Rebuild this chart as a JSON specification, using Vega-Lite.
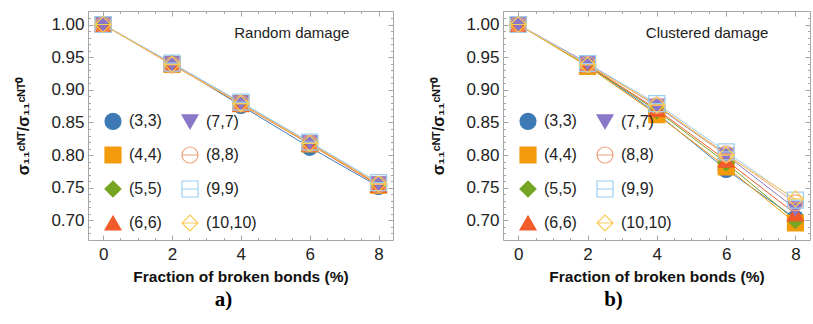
{
  "$schema": "https://vega.github.io/schema/vega-lite/v6.json",
  "background": "white",
  "padding": {"left": 15, "top": 10, "right": 4, "bottom": 0},
  "spacing": 36,
  "datasets": {
    "random": [
      {"tube": "(3,3)", "x": 0, "y": 1.0}, {"tube": "(3,3)", "x": 2, "y": 0.94}, {"tube": "(3,3)", "x": 4, "y": 0.876}, {"tube": "(3,3)", "x": 6, "y": 0.812}, {"tube": "(3,3)", "x": 8, "y": 0.752},
      {"tube": "(4,4)", "x": 0, "y": 1.0}, {"tube": "(4,4)", "x": 2, "y": 0.939}, {"tube": "(4,4)", "x": 4, "y": 0.879}, {"tube": "(4,4)", "x": 6, "y": 0.817}, {"tube": "(4,4)", "x": 8, "y": 0.754},
      {"tube": "(5,5)", "x": 0, "y": 1.0}, {"tube": "(5,5)", "x": 2, "y": 0.94}, {"tube": "(5,5)", "x": 4, "y": 0.879}, {"tube": "(5,5)", "x": 6, "y": 0.818}, {"tube": "(5,5)", "x": 8, "y": 0.755},
      {"tube": "(6,6)", "x": 0, "y": 1.0}, {"tube": "(6,6)", "x": 2, "y": 0.939}, {"tube": "(6,6)", "x": 4, "y": 0.878}, {"tube": "(6,6)", "x": 6, "y": 0.817}, {"tube": "(6,6)", "x": 8, "y": 0.754},
      {"tube": "(7,7)", "x": 0, "y": 1.0}, {"tube": "(7,7)", "x": 2, "y": 0.94}, {"tube": "(7,7)", "x": 4, "y": 0.88}, {"tube": "(7,7)", "x": 6, "y": 0.819}, {"tube": "(7,7)", "x": 8, "y": 0.756},
      {"tube": "(8,8)", "x": 0, "y": 1.0}, {"tube": "(8,8)", "x": 2, "y": 0.938}, {"tube": "(8,8)", "x": 4, "y": 0.879}, {"tube": "(8,8)", "x": 6, "y": 0.818}, {"tube": "(8,8)", "x": 8, "y": 0.755},
      {"tube": "(9,9)", "x": 0, "y": 1.0}, {"tube": "(9,9)", "x": 2, "y": 0.941}, {"tube": "(9,9)", "x": 4, "y": 0.881}, {"tube": "(9,9)", "x": 6, "y": 0.82}, {"tube": "(9,9)", "x": 8, "y": 0.758},
      {"tube": "(10,10)", "x": 0, "y": 1.0}, {"tube": "(10,10)", "x": 2, "y": 0.939}, {"tube": "(10,10)", "x": 4, "y": 0.879}, {"tube": "(10,10)", "x": 6, "y": 0.818}, {"tube": "(10,10)", "x": 8, "y": 0.756}
    ],
    "clustered": [
      {"tube": "(3,3)", "x": 0, "y": 1.0}, {"tube": "(3,3)", "x": 2, "y": 0.938}, {"tube": "(3,3)", "x": 4, "y": 0.864}, {"tube": "(3,3)", "x": 6, "y": 0.778}, {"tube": "(3,3)", "x": 8, "y": 0.703},
      {"tube": "(4,4)", "x": 0, "y": 1.0}, {"tube": "(4,4)", "x": 2, "y": 0.936}, {"tube": "(4,4)", "x": 4, "y": 0.862}, {"tube": "(4,4)", "x": 6, "y": 0.782}, {"tube": "(4,4)", "x": 8, "y": 0.696},
      {"tube": "(5,5)", "x": 0, "y": 1.0}, {"tube": "(5,5)", "x": 2, "y": 0.937}, {"tube": "(5,5)", "x": 4, "y": 0.868}, {"tube": "(5,5)", "x": 6, "y": 0.788}, {"tube": "(5,5)", "x": 8, "y": 0.7},
      {"tube": "(6,6)", "x": 0, "y": 1.0}, {"tube": "(6,6)", "x": 2, "y": 0.938}, {"tube": "(6,6)", "x": 4, "y": 0.87}, {"tube": "(6,6)", "x": 6, "y": 0.792}, {"tube": "(6,6)", "x": 8, "y": 0.71},
      {"tube": "(7,7)", "x": 0, "y": 1.0}, {"tube": "(7,7)", "x": 2, "y": 0.941}, {"tube": "(7,7)", "x": 4, "y": 0.875}, {"tube": "(7,7)", "x": 6, "y": 0.8}, {"tube": "(7,7)", "x": 8, "y": 0.718},
      {"tube": "(8,8)", "x": 0, "y": 1.0}, {"tube": "(8,8)", "x": 2, "y": 0.939}, {"tube": "(8,8)", "x": 4, "y": 0.876}, {"tube": "(8,8)", "x": 6, "y": 0.802}, {"tube": "(8,8)", "x": 8, "y": 0.727},
      {"tube": "(9,9)", "x": 0, "y": 1.0}, {"tube": "(9,9)", "x": 2, "y": 0.94}, {"tube": "(9,9)", "x": 4, "y": 0.879}, {"tube": "(9,9)", "x": 6, "y": 0.805}, {"tube": "(9,9)", "x": 8, "y": 0.731},
      {"tube": "(10,10)", "x": 0, "y": 1.0}, {"tube": "(10,10)", "x": 2, "y": 0.938}, {"tube": "(10,10)", "x": 4, "y": 0.877}, {"tube": "(10,10)", "x": 6, "y": 0.8}, {"tube": "(10,10)", "x": 8, "y": 0.733}
    ]
  },
  "resolve": {"scale": {"color": "independent", "stroke": "independent", "fill": "independent", "shape": "independent"}},
  "hconcat": [
    {
      "width": 305,
      "height": 229,
      "data": {"name": "random"},
      "title": {"text": "a)", "orient": "bottom", "anchor": "middle", "font": "Liberation Serif", "fontSize": 21, "fontWeight": "bold", "color": "#000", "dx": -17, "offset": 4},
      "layer": [
        {
          "mark": {"type": "line", "strokeWidth": 1},
          "encoding": {
            "x": {"field": "x", "type": "quantitative", "scale": {"domain": [-0.44, 8.42], "nice": false, "zero": false},
              "axis": {"orient": "bottom", "values": [0, 2, 4, 6, 8], "format": "d", "title": "Fraction of broken bonds (%)", "tickSize": -5, "labelPadding": 11, "titlePadding": 7}},
            "y": {"field": "y", "type": "quantitative", "scale": {"domain": [0.67, 1.0207], "nice": false, "zero": false},
              "axis": {"orient": "left", "values": [0.7, 0.75, 0.8, 0.85, 0.9, 0.95, 1.0], "format": ".2f", "title": "σ₁₁ᶜᴺᵀ/σ₁₁ᶜᴺᵀ⁰", "titleFontSize": 16, "tickSize": -5, "labelPadding": 9, "titlePadding": 19}},
            "color": {"field": "tube", "type": "nominal", "legend": null,
              "scale": {"domain": ["(10,10)", "(9,9)", "(8,8)", "(7,7)", "(6,6)", "(5,5)", "(4,4)", "(3,3)"],
                "range": ["#fccb55", "#9ccdf2", "#f0a27a", "#8b77c7", "#f15b2a", "#76a523", "#f49b0c", "#3d7ab5"]}}
          }
        },
        {
          "mark": {"type": "point", "size": 256, "strokeWidth": 1.2, "opacity": 1},
          "encoding": {
            "x": {"field": "x", "type": "quantitative", "axis": {"orient": "top", "values": [0, 2, 4, 6, 8], "labels": false, "title": null, "tickSize": -5}},
            "y": {"field": "y", "type": "quantitative", "axis": {"orient": "right", "values": [0.7, 0.75, 0.8, 0.85, 0.9, 0.95, 1.0], "labels": false, "title": null, "tickSize": -5}},
            "shape": {"field": "tube", "type": "nominal",
              "scale": {"domain": ["(3,3)", "(4,4)", "(5,5)", "(6,6)", "(7,7)", "(8,8)", "(9,9)", "(10,10)"],
                "range": ["circle", "square", "diamond", "triangle-up", "triangle-down", "M-1,0A1,1 0 1,0 1,0A1,1 0 1,0 -1,0ZM-1,0L1,0", "M-1,-1L1,-1L1,1L-1,1ZM-1,0L1,0", "M-1,0L0,-1L1,0L0,1ZM-1,0L1,0"]},
              "legend": {"orient": "none", "legendX": 16, "legendY": 101, "columns": 2, "title": null, "symbolSize": 256, "labelFontSize": 16, "labelFont": "Liberation Sans", "labelColor": "#222", "labelOffset": 7, "rowPadding": 12, "columnPadding": 17, "symbolStrokeWidth": 1.2, "padding": 0}},
            "stroke": {"field": "tube", "type": "nominal",
              "scale": {"domain": ["(3,3)", "(4,4)", "(5,5)", "(6,6)", "(7,7)", "(8,8)", "(9,9)", "(10,10)"],
                "range": ["#3d7ab5", "#f49b0c", "#76a523", "#f15b2a", "#8b77c7", "#f0a27a", "#9ccdf2", "#fccb55"]}},
            "fill": {"field": "tube", "type": "nominal",
              "scale": {"domain": ["(3,3)", "(4,4)", "(5,5)", "(6,6)", "(7,7)", "(8,8)", "(9,9)", "(10,10)"],
                "range": ["#3d7ab5", "#f49b0c", "#76a523", "#f15b2a", "#8b77c7", "transparent", "transparent", "transparent"]}}
          }
        },
        {
          "mark": {"type": "point", "opacity": 0, "size": 1},
          "encoding": {
            "x": {"field": "x", "type": "quantitative", "axis": {"orient": "bottom", "values": [0.5, 1, 1.5, 2.5, 3, 3.5, 4.5, 5, 5.5, 6.5, 7, 7.5], "labels": false, "title": null, "tickSize": -2.5}},
            "y": {"field": "y", "type": "quantitative", "axis": {"orient": "left", "values": [0.68, 0.69, 0.71, 0.72, 0.73, 0.74, 0.76, 0.77, 0.78, 0.79, 0.81, 0.82, 0.83, 0.84, 0.86, 0.87, 0.88, 0.89, 0.91, 0.92, 0.93, 0.94, 0.96, 0.97, 0.98, 0.99, 1.01, 1.02], "labels": false, "title": null, "tickSize": -2.5}}
          }
        },
        {
          "mark": {"type": "point", "opacity": 0, "size": 1},
          "encoding": {
            "x": {"field": "x", "type": "quantitative", "axis": {"orient": "top", "values": [0.5, 1, 1.5, 2.5, 3, 3.5, 4.5, 5, 5.5, 6.5, 7, 7.5], "labels": false, "title": null, "tickSize": -2.5}},
            "y": {"field": "y", "type": "quantitative", "axis": {"orient": "right", "values": [0.68, 0.69, 0.71, 0.72, 0.73, 0.74, 0.76, 0.77, 0.78, 0.79, 0.81, 0.82, 0.83, 0.84, 0.86, 0.87, 0.88, 0.89, 0.91, 0.92, 0.93, 0.94, 0.96, 0.97, 0.98, 0.99, 1.01, 1.02], "labels": false, "title": null, "tickSize": -2.5}}
          }
        },
        {
          "data": {"values": [{}]},
          "mark": {"type": "text", "text": "Random damage", "font": "Liberation Sans", "fontSize": 15, "color": "#222", "align": "center", "baseline": "middle"},
          "encoding": {
            "x": {"datum": 5.48, "type": "quantitative", "axis": null},
            "y": {"datum": 0.9865, "type": "quantitative", "axis": null}
          }
        }
      ],
      "resolve": {"axis": {"x": "independent", "y": "independent"}}
    },
    {
      "width": 307,
      "height": 229,
      "data": {"name": "clustered"},
      "title": {"text": "b)", "orient": "bottom", "anchor": "middle", "font": "Liberation Serif", "fontSize": 21, "fontWeight": "bold", "color": "#000", "dx": -43, "offset": 4},
      "layer": [
        {
          "mark": {"type": "line", "strokeWidth": 1},
          "encoding": {
            "x": {"field": "x", "type": "quantitative", "scale": {"domain": [-0.44, 8.42], "nice": false, "zero": false},
              "axis": {"orient": "bottom", "values": [0, 2, 4, 6, 8], "format": "d", "title": "Fraction of broken bonds (%)", "tickSize": -5, "labelPadding": 11, "titlePadding": 7}},
            "y": {"field": "y", "type": "quantitative", "scale": {"domain": [0.67, 1.0207], "nice": false, "zero": false},
              "axis": {"orient": "left", "values": [0.7, 0.75, 0.8, 0.85, 0.9, 0.95, 1.0], "format": ".2f", "title": "σ₁₁ᶜᴺᵀ/σ₁₁ᶜᴺᵀ⁰", "titleFontSize": 16, "tickSize": -5, "labelPadding": 9, "titlePadding": 19}},
            "color": {"field": "tube", "type": "nominal", "legend": null,
              "scale": {"domain": ["(10,10)", "(9,9)", "(8,8)", "(7,7)", "(6,6)", "(5,5)", "(4,4)", "(3,3)"],
                "range": ["#fccb55", "#9ccdf2", "#f0a27a", "#8b77c7", "#f15b2a", "#76a523", "#f49b0c", "#3d7ab5"]}}
          }
        },
        {
          "mark": {"type": "point", "size": 256, "strokeWidth": 1.2, "opacity": 1},
          "encoding": {
            "x": {"field": "x", "type": "quantitative", "axis": {"orient": "top", "values": [0, 2, 4, 6, 8], "labels": false, "title": null, "tickSize": -5}},
            "y": {"field": "y", "type": "quantitative", "axis": {"orient": "right", "values": [0.7, 0.75, 0.8, 0.85, 0.9, 0.95, 1.0], "labels": false, "title": null, "tickSize": -5}},
            "shape": {"field": "tube", "type": "nominal",
              "scale": {"domain": ["(3,3)", "(4,4)", "(5,5)", "(6,6)", "(7,7)", "(8,8)", "(9,9)", "(10,10)"],
                "range": ["circle", "square", "diamond", "triangle-up", "triangle-down", "M-1,0A1,1 0 1,0 1,0A1,1 0 1,0 -1,0ZM-1,0L1,0", "M-1,-1L1,-1L1,1L-1,1ZM-1,0L1,0", "M-1,0L0,-1L1,0L0,1ZM-1,0L1,0"]},
              "legend": {"orient": "none", "legendX": 16, "legendY": 101, "columns": 2, "title": null, "symbolSize": 256, "labelFontSize": 16, "labelFont": "Liberation Sans", "labelColor": "#222", "labelOffset": 7, "rowPadding": 12, "columnPadding": 17, "symbolStrokeWidth": 1.2, "padding": 0}},
            "stroke": {"field": "tube", "type": "nominal",
              "scale": {"domain": ["(3,3)", "(4,4)", "(5,5)", "(6,6)", "(7,7)", "(8,8)", "(9,9)", "(10,10)"],
                "range": ["#3d7ab5", "#f49b0c", "#76a523", "#f15b2a", "#8b77c7", "#f0a27a", "#9ccdf2", "#fccb55"]}},
            "fill": {"field": "tube", "type": "nominal",
              "scale": {"domain": ["(3,3)", "(4,4)", "(5,5)", "(6,6)", "(7,7)", "(8,8)", "(9,9)", "(10,10)"],
                "range": ["#3d7ab5", "#f49b0c", "#76a523", "#f15b2a", "#8b77c7", "transparent", "transparent", "transparent"]}}
          }
        },
        {
          "mark": {"type": "point", "opacity": 0, "size": 1},
          "encoding": {
            "x": {"field": "x", "type": "quantitative", "axis": {"orient": "bottom", "values": [0.5, 1, 1.5, 2.5, 3, 3.5, 4.5, 5, 5.5, 6.5, 7, 7.5], "labels": false, "title": null, "tickSize": -2.5}},
            "y": {"field": "y", "type": "quantitative", "axis": {"orient": "left", "values": [0.68, 0.69, 0.71, 0.72, 0.73, 0.74, 0.76, 0.77, 0.78, 0.79, 0.81, 0.82, 0.83, 0.84, 0.86, 0.87, 0.88, 0.89, 0.91, 0.92, 0.93, 0.94, 0.96, 0.97, 0.98, 0.99, 1.01, 1.02], "labels": false, "title": null, "tickSize": -2.5}}
          }
        },
        {
          "mark": {"type": "point", "opacity": 0, "size": 1},
          "encoding": {
            "x": {"field": "x", "type": "quantitative", "axis": {"orient": "top", "values": [0.5, 1, 1.5, 2.5, 3, 3.5, 4.5, 5, 5.5, 6.5, 7, 7.5], "labels": false, "title": null, "tickSize": -2.5}},
            "y": {"field": "y", "type": "quantitative", "axis": {"orient": "right", "values": [0.68, 0.69, 0.71, 0.72, 0.73, 0.74, 0.76, 0.77, 0.78, 0.79, 0.81, 0.82, 0.83, 0.84, 0.86, 0.87, 0.88, 0.89, 0.91, 0.92, 0.93, 0.94, 0.96, 0.97, 0.98, 0.99, 1.01, 1.02], "labels": false, "title": null, "tickSize": -2.5}}
          }
        },
        {
          "data": {"values": [{}]},
          "mark": {"type": "text", "text": "Clustered damage", "font": "Liberation Sans", "fontSize": 15, "color": "#222", "align": "center", "baseline": "middle"},
          "encoding": {
            "x": {"datum": 5.45, "type": "quantitative", "axis": null},
            "y": {"datum": 0.9865, "type": "quantitative", "axis": null}
          }
        }
      ],
      "resolve": {"axis": {"x": "independent", "y": "independent"}}
    }
  ],
  "config": {
    "font": "Liberation Sans",
    "view": {"stroke": "#a6a6a6", "strokeWidth": 1},
    "axis": {"domain": false, "grid": false, "tickColor": "#a6a6a6", "tickWidth": 1, "labelFont": "Liberation Sans", "labelFontSize": 17, "labelColor": "#222", "titleFont": "Liberation Sans", "titleFontWeight": "bold", "titleFontSize": 15.5, "titleColor": "#111", "minExtent": 0}
  }
}
